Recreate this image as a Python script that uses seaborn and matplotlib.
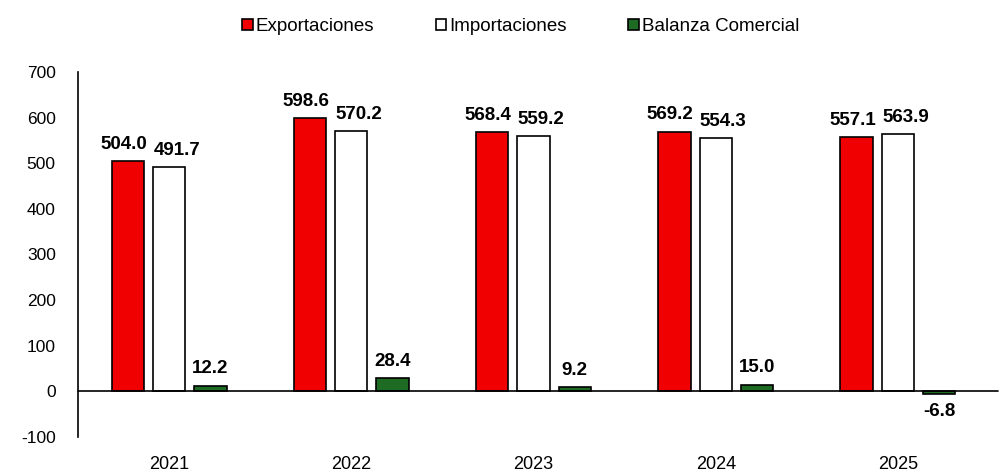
import matplotlib
matplotlib.use("Agg")
import matplotlib.pyplot as plt
import seaborn as sns
import pandas as pd

years = ["2021", "2022", "2023", "2024", "2025"]
exportaciones = [504.0, 598.6, 568.4, 569.2, 557.1]
importaciones = [491.7, 570.2, 559.2, 554.3, 563.9]
balanza = [12.2, 28.4, 9.2, 15.0, -6.8]
series = ["Exportaciones", "Importaciones", "Balanza Comercial"]
colors = ["#f00000", "#ffffff", "#1e6b24"]

df = pd.DataFrame({
    "year": years * 3,
    "serie": [series[0]] * 5 + [series[1]] * 5 + [series[2]] * 5,
    "value": exportaciones + importaciones + balanza,
})

sns.set_style("white")
plt.rcParams["font.family"] = ["Liberation Sans", "DejaVu Sans"]
plt.rcParams["axes.unicode_minus"] = False
plt.rcParams["text.color"] = "black"
plt.rcParams["xtick.color"] = "black"
plt.rcParams["ytick.color"] = "black"

fig = plt.figure(figsize=(10.07, 4.72), dpi=100)
ax = fig.add_axes([78 / 1007, 1 - 437 / 472, (989 - 78) / 1007, (437 - 72) / 472])

sns.barplot(
    ax=ax, data=df, x="year", y="value", hue="serie",
    hue_order=series, palette=colors, saturation=1,
    width=0.68, gap=0.22,
    edgecolor="black", linewidth=1.2,
)

# labels like excel: red ones nudged left, white ones nudged right so they don't collide
shifts = [-3, 5.5, 0]
for cont, dx in zip(ax.containers, shifts):
    labels = ax.bar_label(cont, fmt="%.1f", padding=6, fontsize=13.5,
                          fontweight="bold", color="black")
    for t in labels:
        x0, y0 = t.xyann
        t.xyann = (x0 + dx, y0)

ax.axhline(0, color="black", linewidth=1.2, xmax=1.01, clip_on=False)
ax.set_ylim(-100, 700)
ax.set_yticks(range(-100, 701, 100))
ax.set_xlim(-0.5, 4.5)
ax.set_xlabel("")
ax.set_ylabel("")
ax.tick_params(axis="y", labelsize=12.5, length=0, pad=16)
ax.tick_params(axis="x", labelsize=13, length=0, pad=14)
for s in ["top", "right", "bottom"]:
    ax.spines[s].set_visible(False)
ax.spines["left"].set_color("black")
ax.spines["left"].set_linewidth(1.2)

ax.legend(
    loc="upper center", bbox_to_anchor=(0.486, 1.193), ncol=3, frameon=False,
    fontsize=13.5, handlelength=0.55, handleheight=0.55, handletextpad=0.15,
    columnspacing=3.3,
)

fig.savefig("out.png", dpi=100)
